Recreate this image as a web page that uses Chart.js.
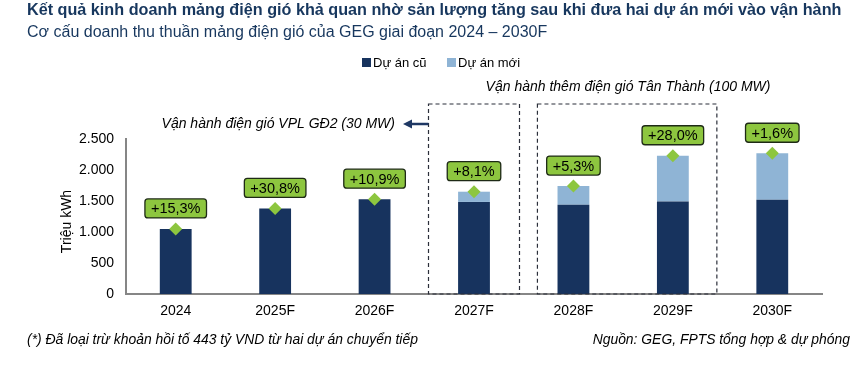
<!DOCTYPE html>
<html>
<head>
<meta charset="utf-8">
<script src="https://cdn.jsdelivr.net/npm/chart.js@4.4.3/dist/chart.umd.min.js"></script>
<style>
  html, body { margin: 0; padding: 0; background: #fff; }
  #wrap { width: 861px; height: 367px; position: relative; }
</style>
</head>
<body>
<div id="wrap"><canvas id="chart" width="861" height="367"></canvas></div>
<script>
// Data
const years = ['2024', '2025F', '2026F', '2027F', '2028F', '2029F', '2030F'];
const oldProjects = [1050, 1380, 1530, 1485, 1440, 1490, 1520];
const newProjects = [0, 0, 0, 165, 300, 740, 750];
const growthLabels = ['+15,3%', '+30,8%', '+10,9%', '+8,1%', '+5,3%', '+28,0%', '+1,6%'];
const yTicks = [0, 500, 1000, 1500, 2000, 2500];

const totals = oldProjects.map((v, i) => v + newProjects[i]);

const DARK = '#17335e';
const LIGHT = '#8fb4d5';
const GREEN = '#8dc63f';
const FONT = '"Liberation Sans", Arial, sans-serif';

const fmt = v => v.toLocaleString('de-DE');

// draws titles, legend, notes, dashed boxes and growth label boxes
const decorations = {
    id: 'decorations',
    afterDatasetsDraw(chart) {
        const ctx = chart.ctx;
        const area = chart.chartArea;
        const x = chart.scales.x;
        ctx.save();

        // title + subtitle
        ctx.textBaseline = 'middle';
        ctx.textAlign = 'left';
        ctx.fillStyle = '#17375e';
        ctx.font = 'bold 16.2px ' + FONT;
        ctx.fillText('Kết quả kinh doanh mảng điện gió khả quan nhờ sản lượng tăng sau khi đưa hai dự án mới vào vận hành', 27, 11);
        ctx.font = '16px ' + FONT;
        ctx.fillText('Cơ cấu doanh thu thuần mảng điện gió của GEG giai đoạn 2024 – 2030F', 27, 33);

        // legend
        ctx.font = '13px ' + FONT;
        ctx.fillStyle = DARK;
        ctx.fillRect(362, 58, 9, 9);
        ctx.fillStyle = '#000';
        ctx.fillText('Dự án cũ', 373, 63);
        ctx.fillStyle = LIGHT;
        ctx.fillRect(447, 58, 9, 9);
        ctx.fillStyle = '#000';
        ctx.fillText('Dự án mới', 458, 63);

        // y axis title
        ctx.save();
        ctx.translate(67, (area.top + area.bottom) / 2 + 5);
        ctx.rotate(-Math.PI / 2);
        ctx.textAlign = 'center';
        ctx.font = '14px ' + FONT;
        ctx.fillText('Triệu kWh', 0, 0);
        ctx.restore();

        // dashed boxes
        const boxTop = area.top - 35;
        ctx.strokeStyle = '#2b2f3a';
        ctx.lineWidth = 1.2;
        ctx.setLineDash([4, 3]);
        const c27 = x.getPixelForValue(3);
        ctx.strokeRect(c27 - 45.5, boxTop, 91, area.bottom - boxTop);
        const c28 = x.getPixelForValue(4), c29 = x.getPixelForValue(5);
        ctx.strokeRect(c28 - 36, boxTop, (c29 + 44) - (c28 - 36), area.bottom - boxTop);
        ctx.setLineDash([]);

        // arrow pointing to VPL note
        const ay = area.top - 15;
        ctx.strokeStyle = '#1f3864';
        ctx.fillStyle = '#1f3864';
        ctx.lineWidth = 2.5;
        ctx.beginPath();
        ctx.moveTo(c27 - 45.5, ay);
        ctx.lineTo(c27 - 63, ay);
        ctx.stroke();
        ctx.beginPath();
        ctx.moveTo(c27 - 71, ay);
        ctx.lineTo(c27 - 62, ay - 4.5);
        ctx.lineTo(c27 - 62, ay + 4.5);
        ctx.closePath();
        ctx.fill();

        // annotations
        ctx.fillStyle = '#000';
        ctx.font = 'italic 14px ' + FONT;
        ctx.textAlign = 'right';
        ctx.fillText('Vận hành điện gió VPL GĐ2 (30 MW)', c27 - 79, ay);
        ctx.textAlign = 'center';
        ctx.fillText('Vận hành thêm điện gió Tân Thành (100 MW)', 628, 87);

        // footnotes
        ctx.font = 'italic 13.9px ' + FONT;
        ctx.textAlign = 'left';
        ctx.fillText('(*) Đã loại trừ khoản hồi tố 443 tỷ VND từ hai dự án chuyển tiếp', 27, 340);
        ctx.textAlign = 'right';
        ctx.fillText('Nguồn: GEG, FPTS tổng hợp & dự phóng', 850, 340);

        // growth label boxes above the diamonds
        const pts = chart.getDatasetMeta(2).data;
        ctx.font = '14.5px ' + FONT;
        ctx.textAlign = 'center';
        pts.forEach((p, i) => {
            const label = growthLabels[i];
            const w = ctx.measureText(label).width + 12;
            const h = 19;
            const bx = p.x - w / 2;
            const by = p.y - 11 - h;
            ctx.beginPath();
            ctx.roundRect(bx, by, w, h, 3);
            ctx.fillStyle = GREEN;
            ctx.fill();
            ctx.strokeStyle = '#1e2a16';
            ctx.lineWidth = 1.3;
            ctx.stroke();
            ctx.fillStyle = '#000';
            ctx.fillText(label, p.x, by + h / 2 + 1);
        });

        ctx.restore();
    }
};

new Chart(document.getElementById('chart'), {
    type: 'bar',
    data: {
        labels: years,
        datasets: [
            {
                label: 'Dự án cũ',
                data: oldProjects,
                backgroundColor: DARK,
                stack: 's',
                order: 2
            },
            {
                label: 'Dự án mới',
                data: newProjects,
                backgroundColor: LIGHT,
                stack: 's',
                order: 2
            },
            {
                type: 'line',
                label: 'Tăng trưởng',
                data: totals,
                showLine: false,
                pointStyle: 'rectRot',
                pointRadius: 6.5,
                pointBackgroundColor: GREEN,
                pointBorderColor: GREEN,
                pointBorderWidth: 0,
                order: 1
            }
        ]
    },
    options: {
        responsive: false,
        animation: false,
        layout: { padding: { left: 0, right: 39, top: 139, bottom: 42 } },
        datasets: { bar: { categoryPercentage: 1, barPercentage: 0.32 } },
        plugins: {
            legend: { display: false },
            title: { display: false },
            tooltip: { enabled: false }
        },
        scales: {
            x: {
                stacked: true,
                grid: { display: false, drawTicks: false },
                border: { display: true, color: '#868686', width: 2 },
                ticks: { color: '#000', font: { family: FONT, size: 14 }, padding: 9 },
                afterFit: s => { s.height = 31; }
            },
            y: {
                stacked: true,
                min: 0,
                max: 2500,
                afterBuildTicks: s => { s.ticks = yTicks.map(v => ({ value: v })); },
                grid: { display: false, drawTicks: false },
                border: { display: true, color: '#868686', width: 2 },
                ticks: {
                    color: '#000',
                    font: { family: FONT, size: 14 },
                    padding: 12,
                    callback: v => fmt(v)
                },
                afterFit: s => { s.width = 126; }
            }
        }
    },
    plugins: [decorations]
});
</script>
</body>
</html>
